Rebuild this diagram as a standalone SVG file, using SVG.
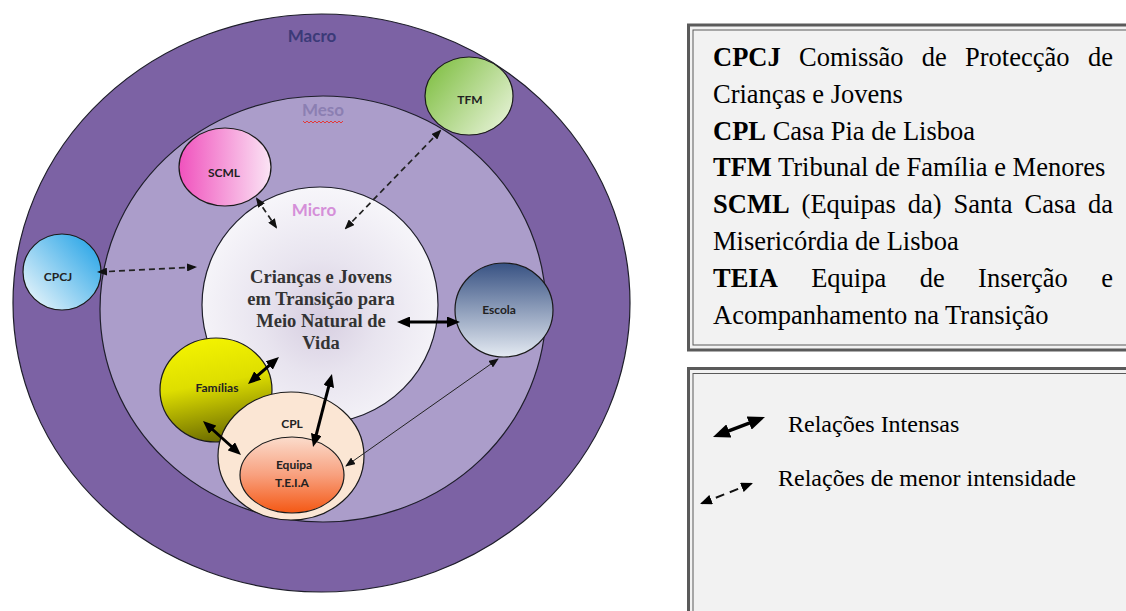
<svg xmlns="http://www.w3.org/2000/svg" width="1126" height="611" viewBox="0 0 1126 611">
<style>
.ring{stroke:#1e1e2a;stroke-width:1.2}
.node{stroke:#1a1a1a;stroke-width:1.2}
.lbl{font-family:Lato,"Open Sans","Liberation Sans",sans-serif;font-weight:700;font-size:12px;fill:#222;text-anchor:middle}
.lvl{font-family:Lato,"Open Sans","Liberation Sans",sans-serif;font-weight:700;font-size:17px;text-anchor:middle}
.mid{font-family:"Liberation Serif","Times New Roman",serif;font-weight:700;font-size:18.5px;fill:#333;text-anchor:middle}
.leg{font-family:"Liberation Serif","Times New Roman",serif;font-size:26.5px;fill:#000}
.leg2{font-family:"Liberation Serif","Times New Roman",serif;font-size:24px;fill:#000}
.b{font-weight:700}
.thick{stroke:#000;stroke-width:3;fill:none;marker-start:url(#hThick);marker-end:url(#hThick)}
.thickL{stroke:#000;stroke-width:3.5;fill:none;marker-start:url(#hThickL);marker-end:url(#hThickL)}
.dash{stroke:#222;stroke-width:1.7;fill:none;stroke-dasharray:6 4;marker-start:url(#hDash);marker-end:url(#hDash)}
.dashL{stroke:#111;stroke-width:2;fill:none;stroke-dasharray:9 6;marker-start:url(#hDashL);marker-end:url(#hDashL)}
.thin{stroke:#222;stroke-width:1;fill:none;marker-start:url(#hThin);marker-end:url(#hThin)}
.box{fill:#f2f2f2;stroke:#5a5a5a;stroke-width:3}
.boxin{fill:none;stroke:#5a5a5a;stroke-width:1}
</style>
<defs>
<marker id="hThick" markerUnits="userSpaceOnUse" viewBox="0 0 13 11" markerWidth="13" markerHeight="11" refX="4" refY="5.5" orient="auto-start-reverse"><path d="M0,0 L13,5.5 L0,11 z" fill="#000"/></marker>
<marker id="hThickL" markerUnits="userSpaceOnUse" viewBox="0 0 17 14" markerWidth="17" markerHeight="14" refX="5" refY="7" orient="auto-start-reverse"><path d="M0,0 L17,7 L0,14 z" fill="#000"/></marker>
<marker id="hDash" markerUnits="userSpaceOnUse" viewBox="0 0 10 8" markerWidth="10" markerHeight="8" refX="8" refY="4" orient="auto-start-reverse"><path d="M0,0 L10,4 L0,8 z" fill="#111"/></marker>
<marker id="hDashL" markerUnits="userSpaceOnUse" viewBox="0 0 12 10" markerWidth="12" markerHeight="10" refX="10" refY="5" orient="auto-start-reverse"><path d="M0,0 L12,5 L0,10 z" fill="#000"/></marker>
<marker id="hThin" markerUnits="userSpaceOnUse" viewBox="0 0 10 8" markerWidth="10" markerHeight="8" refX="9" refY="4" orient="auto-start-reverse"><path d="M0,0 L10,4 L0,8 z" fill="#111"/></marker>
<radialGradient id="gMicro" cx="0.5" cy="0.55" r="0.55">
<stop offset="0" stop-color="#d6cde0"/><stop offset="0.45" stop-color="#e8e4ef"/><stop offset="1" stop-color="#f7f6fa"/>
</radialGradient>
<linearGradient id="gTfm" x1="0" y1="0.2" x2="1" y2="0.9"><stop offset="0" stop-color="#82c046"/><stop offset="1" stop-color="#eaf4dc"/></linearGradient>
<linearGradient id="gScml" x1="0" y1="0.5" x2="1" y2="0.5"><stop offset="0" stop-color="#f052bd"/><stop offset="1" stop-color="#fbe4f5"/></linearGradient>
<linearGradient id="gCpcj" x1="1" y1="0.1" x2="0.1" y2="0.9"><stop offset="0" stop-color="#22a2e6"/><stop offset="1" stop-color="#e2f2fa"/></linearGradient>
<linearGradient id="gEscola" x1="0" y1="0" x2="0" y2="1"><stop offset="0" stop-color="#385283"/><stop offset="1" stop-color="#e4eaf2"/></linearGradient>
<linearGradient id="gFam" x1="0.3" y1="0" x2="0.5" y2="1"><stop offset="0" stop-color="#f4f400"/><stop offset="0.45" stop-color="#dede00"/><stop offset="1" stop-color="#6c6c00"/></linearGradient>
<linearGradient id="gTeia" x1="0" y1="0" x2="0" y2="1"><stop offset="0" stop-color="#fbdccc"/><stop offset="0.5" stop-color="#f8a07e"/><stop offset="1" stop-color="#f45814"/></linearGradient>
</defs>

<g id="macro">
<ellipse class="ring" cx="321.5" cy="303" rx="308.5" ry="289" fill="#7c62a4"/>
<text class="lvl" x="312" y="42" fill="#3b3a78">Macro</text>
</g>
<g id="meso">
<ellipse class="ring" cx="323" cy="309" rx="223" ry="213" fill="#ab9dca"/>
<text class="lvl" x="323" y="116" fill="#8b7fb2">Meso</text>
<path d="M303,121 l2,2 l2,-2 l2,2 l2,-2 l2,2 l2,-2 l2,2 l2,-2 l2,2 l2,-2 l2,2 l2,-2 l2,2 l2,-2 l2,2 l2,-2 l2,2 l2,-2 l2,2 l2,-2" fill="none" stroke="#e23a3a" stroke-width="1"/>
</g>
<g id="micro">
<circle class="ring" cx="320" cy="305" r="118" fill="url(#gMicro)"/>
<text class="lvl" x="314" y="216" fill="#d58fd9">Micro</text>
</g>
<g id="tfm">
<ellipse class="node" cx="469" cy="96" rx="44" ry="39" fill="url(#gTfm)"/>
<text class="lbl" x="470" y="104">TFM</text>
</g>
<g id="scml">
<ellipse class="node" cx="225" cy="167" rx="46" ry="39" fill="url(#gScml)"/>
<text class="lbl" x="224" y="177">SCML</text>
</g>
<g id="cpcj">
<ellipse class="node" cx="62" cy="272" rx="39" ry="38" fill="url(#gCpcj)"/>
<text class="lbl" x="58" y="281">CPCJ</text>
</g>
<g id="escola">
<ellipse class="node" cx="504" cy="310" rx="49" ry="47" fill="url(#gEscola)"/>
<text class="lbl" x="499" y="314">Escola</text>
</g>
<g id="familias">
<ellipse class="node" cx="216" cy="390" rx="56" ry="52" fill="url(#gFam)"/>
<text class="lbl" x="217" y="392">Famílias</text>
</g>
<g id="cpl">
<ellipse class="node" cx="291" cy="456" rx="73" ry="64" fill="#fbe6d4"/>
<text class="lbl" x="292" y="428">CPL</text>
</g>
<g id="teia">
<ellipse class="node" cx="292" cy="475" rx="52" ry="38" fill="url(#gTeia)"/>
<text class="lbl" x="294" y="469">Equipa</text>
<text class="lbl" x="292" y="487">T.E.I.A</text>
</g>
<g id="centre">
<text class="mid" x="321" y="283">Crianças e Jovens</text>
<text class="mid" x="321" y="305">em Transição para</text>
<text class="mid" x="321" y="327">Meio Natural de</text>
<text class="mid" x="321" y="349">Vida</text>
</g>

<g id="connectors">
<line class="dash" x1="99" y1="272" x2="195" y2="267"/>
<line class="dash" x1="257" y1="199" x2="276" y2="227"/>
<line class="dash" x1="440" y1="131" x2="346" y2="228"/>
<line class="thick" x1="406" y1="322" x2="451" y2="322"/>
<line class="thick" x1="254.8" y1="378.1" x2="272.2" y2="362.9"/>
<line class="thick" x1="209.7" y1="427" x2="234.3" y2="449"/>
<line class="thick" x1="315.3" y1="438.3" x2="329.7" y2="382.7"/>
<line class="thin" x1="346" y1="466" x2="498" y2="359"/>
</g>

<g id="legend-abbrev">
<rect class="box" x="688.5" y="25" width="450" height="325"/>
<rect class="boxin" x="693" y="30" width="450" height="315"/>
<text class="leg" y="66"><tspan class="b" x="713">CPCJ</tspan><tspan x="799">Comissão</tspan><tspan x="921.8">de</tspan><tspan x="965">Protecção</tspan><tspan x="1088">de</tspan></text>
<text class="leg" x="713" y="102.8">Crianças e Jovens</text>
<text class="leg" x="713" y="139.6"><tspan class="b">CPL</tspan> Casa Pia de Lisboa</text>
<text class="leg" x="713" y="176.4"><tspan class="b">TFM</tspan> Tribunal de Família e Menores</text>
<text class="leg" y="213.2"><tspan class="b" x="713">SCML</tspan><tspan x="801.6">(Equipas</tspan><tspan x="907.8">da)</tspan><tspan x="953.6">Santa</tspan><tspan x="1024.5">Casa</tspan><tspan x="1088">da</tspan></text>
<text class="leg" x="713" y="250">Misericórdia de Lisboa</text>
<text class="leg" y="286.8"><tspan class="b" x="713">TEIA</tspan><tspan x="811.2">Equipa</tspan><tspan x="919.7">de</tspan><tspan x="978.1">Inserção</tspan><tspan x="1101.3">e</tspan></text>
<text class="leg" x="713" y="323.6">Acompanhamento na Transição</text>
</g>
<g id="legend-keys">
<rect class="box" x="688.5" y="368.5" width="450" height="260"/>
<rect class="boxin" x="693" y="373.5" width="450" height="250"/>
<line class="thickL" x1="724.2" y1="432.7" x2="753.8" y2="421.3"/>
<text class="leg2" x="788" y="432">Relações Intensas</text>
<line class="dashL" x1="701.9" y1="503.3" x2="751.1" y2="483.7"/>
<text class="leg2" x="778" y="486">Relações de menor intensidade</text>
</g>
</svg>
